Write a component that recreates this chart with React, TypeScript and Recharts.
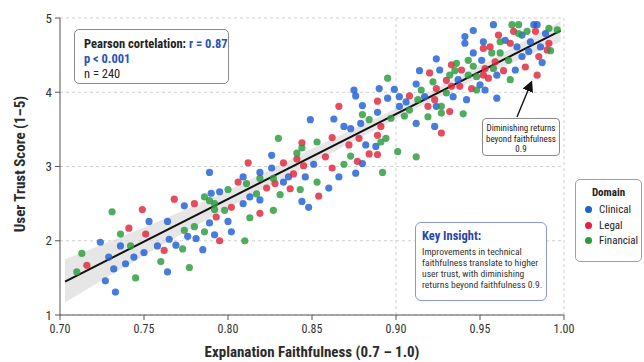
import { ComposedChart, Scatter, Line, Area, XAxis, YAxis, CartesianGrid, ReferenceLine } from 'recharts'

type Pt = [number, number]

// values (faithfulness, trust)
const clinical: Pt[] = [
  [0.724, 1.98], [0.729, 1.78], [0.727, 1.46], [0.733, 1.31], [0.732, 1.62], [0.736, 1.93], [0.739, 1.69],
  [0.744, 1.78], [0.753, 2.26], [0.750, 1.84], [0.758, 1.93], [0.764, 1.58], [0.764, 2.26], [0.765, 2.02],
  [0.769, 1.94], [0.774, 2.47], [0.776, 2.06], [0.781, 2.03], [0.785, 1.88], [0.789, 2.92], [0.789, 2.24],
  [0.790, 2.64], [0.792, 2.08], [0.795, 2.66], [0.800, 2.26], [0.802, 2.12], [0.809, 2.86], [0.809, 2.50],
  [0.813, 2.59], [0.819, 2.92], [0.819, 2.55], [0.826, 2.98], [0.826, 3.15], [0.833, 2.79], [0.836, 2.86],
  [0.844, 2.53], [0.846, 2.86], [0.848, 2.45], [0.851, 3.03], [0.849, 3.63], [0.863, 3.64], [0.869, 3.54],
  [0.873, 3.51], [0.875, 4.03], [0.876, 3.95], [0.879, 3.58], [0.880, 3.82], [0.882, 3.29], [0.890, 4.05],
  [0.889, 3.73], [0.888, 3.27], [0.895, 3.92], [0.860, 2.71], [0.866, 2.86], [0.880, 3.04], [0.876, 2.91],
  [0.899, 4.04], [0.902, 3.94], [0.902, 3.81], [0.906, 3.87], [0.912, 3.58], [0.914, 4.29], [0.912, 4.11],
  [0.917, 3.94], [0.924, 4.45], [0.924, 3.81], [0.923, 3.54], [0.926, 4.30], [0.934, 3.94], [0.937, 4.17],
  [0.942, 3.90], [0.941, 4.66], [0.941, 4.75], [0.946, 4.83], [0.946, 4.53], [0.950, 4.10], [0.951, 4.43],
  [0.952, 4.68], [0.953, 4.03], [0.958, 4.91], [0.960, 3.92], [0.960, 4.23], [0.965, 4.70], [0.971, 4.30],
  [0.972, 4.61], [0.975, 4.48], [0.979, 4.55], [0.982, 4.91], [0.986, 4.61], [0.987, 4.40], [0.989, 4.79],
  [0.984, 4.91], [0.980, 4.68], [0.975, 4.77],
]

const legal: Pt[] = [
  [0.716, 1.67], [0.741, 2.17], [0.749, 2.42], [0.751, 2.09], [0.762, 1.87], [0.768, 2.56], [0.780, 2.50],
  [0.793, 2.32], [0.795, 2.00], [0.802, 2.45], [0.806, 2.79], [0.812, 3.05], [0.819, 2.37], [0.823, 2.71],
  [0.828, 2.77], [0.833, 3.05], [0.837, 2.70], [0.839, 2.90], [0.841, 3.10], [0.844, 3.32], [0.845, 3.01],
  [0.854, 2.60], [0.862, 3.39], [0.866, 3.81], [0.872, 3.29], [0.878, 3.38], [0.889, 3.42], [0.889, 3.88],
  [0.891, 3.54], [0.862, 2.98], [0.858, 3.13], [0.877, 3.07], [0.884, 3.17], [0.889, 3.16], [0.908, 3.95],
  [0.919, 3.81], [0.920, 4.26], [0.923, 3.90], [0.924, 4.05], [0.927, 3.45], [0.930, 4.16], [0.933, 4.37],
  [0.933, 4.08], [0.932, 3.74], [0.938, 4.08], [0.939, 4.30], [0.945, 4.05], [0.952, 4.59], [0.952, 4.23],
  [0.953, 4.32], [0.955, 4.19], [0.956, 4.61], [0.959, 4.41], [0.961, 4.77], [0.964, 4.29], [0.968, 4.66],
  [0.970, 4.82], [0.977, 4.34], [0.983, 4.82], [0.984, 4.23], [0.985, 4.48], [0.990, 4.57], [0.991, 4.66],
]

const financial: Pt[] = [
  [0.710, 1.58], [0.713, 1.83], [0.731, 2.39], [0.736, 2.09], [0.742, 1.93], [0.745, 1.50], [0.760, 1.72],
  [0.773, 1.89], [0.774, 2.14], [0.777, 1.64], [0.780, 2.19], [0.786, 2.59], [0.786, 2.12], [0.789, 2.54],
  [0.792, 2.42], [0.792, 2.50], [0.798, 2.41], [0.800, 2.69], [0.810, 2.00], [0.811, 2.77], [0.813, 2.31],
  [0.817, 2.63], [0.819, 2.84], [0.827, 2.41], [0.827, 2.84], [0.831, 2.62], [0.841, 3.18], [0.843, 2.69],
  [0.844, 3.25], [0.853, 2.79], [0.853, 3.33], [0.830, 3.38], [0.880, 3.70], [0.884, 3.63], [0.891, 3.33],
  [0.894, 3.38], [0.895, 4.19], [0.869, 3.03], [0.873, 3.14], [0.892, 2.92], [0.901, 3.20], [0.912, 3.13],
  [0.897, 3.65], [0.905, 3.68], [0.908, 3.76], [0.913, 3.90], [0.915, 4.03], [0.919, 3.67], [0.922, 4.14],
  [0.927, 3.81], [0.927, 3.72], [0.932, 4.23], [0.930, 3.99], [0.935, 4.29], [0.936, 4.39], [0.940, 3.71],
  [0.943, 4.43], [0.943, 4.23], [0.946, 4.35], [0.948, 4.21], [0.948, 4.03], [0.957, 4.53], [0.958, 4.32],
  [0.962, 4.53], [0.962, 4.68], [0.968, 4.17], [0.967, 4.43], [0.969, 4.91], [0.973, 4.91], [0.973, 4.79],
  [0.978, 4.82], [0.991, 4.86], [0.992, 4.56], [0.996, 4.84],
]

const xTicks = [0.7, 0.75, 0.8, 0.85, 0.9, 0.95, 1.0]
const yTicks = [1, 2, 3, 4, 5]

// regression line and its confidence band
const fitX = [0.703, 0.998]
const fitY = [1.45, 4.83]
const bandX = [0.703, 0.75, 0.8, 0.85, 0.9, 0.95, 0.998]
const bandLow = [1.17, 1.8, 2.44, 3.04, 3.64, 4.2, 4.68]
const bandHigh = [1.75, 2.18, 2.68, 3.24, 3.78, 4.36, 4.96]

const BLUE = '#1f5fd4'
const RED = '#e0243c'
const GREEN = '#2a9a3c'

const domains = [
  { name: 'Clinical', color: BLUE, points: clinical },
  { name: 'Legal', color: RED, points: legal },
  { name: 'Financial', color: GREEN, points: financial },
]

const bandData = bandX.map((x, i) => ({ x, band: [bandLow[i], bandHigh[i]] }))
const fitData = fitX.map((x, i) => ({ x, fit: fitY[i] }))

const FONT = '"Liberation Sans Narrow", "Roboto Condensed", Roboto, Arial, sans-serif'

export default function App() {
  return (
    <div style={{ position: 'relative', width: 644, height: 362, overflow: 'hidden', background: '#fff', fontFamily: FONT }}>
      <style>{'body{margin:0}'}</style>
      <ComposedChart width={644} height={362} data={bandData} margin={{ top: 18, right: 80, bottom: 17, left: 0 }}>
        <CartesianGrid vertical={false} stroke="#cfcfcf" strokeDasharray="3 3" />
        <ReferenceLine x={0.9} stroke="#cfcfcf" strokeDasharray="3 3" />
        <ReferenceLine x={1.0} stroke="#cfcfcf" strokeDasharray="3 3" />
        <XAxis
          type="number"
          dataKey="x"
          domain={[0.7, 1.0]}
          ticks={xTicks}
          tickFormatter={(v: number) => v.toFixed(2)}
          height={30}
          stroke="#555"
          tickSize={5}
          tickMargin={4}
          tick={{ fontSize: 12, fill: '#333', fontFamily: FONT }}
          allowDataOverflow
        />
        <YAxis
          type="number"
          dataKey="y"
          domain={[1, 5]}
          ticks={yTicks}
          width={60}
          stroke="#555"
          tickSize={5}
          tickMargin={3}
          tick={{ fontSize: 13, fill: '#333', fontFamily: FONT }}
          allowDataOverflow
        />
        <Area dataKey="band" type="monotone" stroke="none" fill="#d6d6d6" fillOpacity={0.6} isAnimationActive={false} />
        {domains.map((d) => (
          <Scatter
            key={d.name}
            name={d.name}
            data={d.points.map(([x, y]) => ({ x, y }))}
            isAnimationActive={false}
            shape={(p: any) => <circle cx={p.cx} cy={p.cy} r={3.6} fill={d.color} fillOpacity={0.82} />}
          />
        ))}
        <Line data={fitData} dataKey="fit" stroke="#111" strokeWidth={2} dot={false} isAnimationActive={false} />
      </ComposedChart>

      {/* axis titles */}
      <div
        style={{
          position: 'absolute', left: 20, top: 164, transform: 'translate(-50%, -50%) rotate(-90deg)',
          whiteSpace: 'nowrap', fontSize: 15, fontWeight: 700, color: '#2b2b2b',
        }}
      >
        User Trust Score (1–5)
      </div>
      <div
        style={{
          position: 'absolute', left: 312, top: 352, transform: 'translate(-50%, -50%)',
          whiteSpace: 'nowrap', fontSize: 15, fontWeight: 700, color: '#2b2b2b',
        }}
      >
        Explanation Faithfulness (0.7 – 1.0)
      </div>

      {/* correlation box */}
      <div
        style={{
          position: 'absolute', left: 74, top: 29, width: 155, height: 55, boxSizing: 'border-box',
          border: '1px solid #8a8a8a', borderRadius: 5, background: '#fff', padding: '6px 0 0 9px',
          fontSize: 12.5, lineHeight: '15px', color: '#222',
        }}
      >
        <div style={{ fontWeight: 700 }}>
          Pearson cortelation: <span style={{ color: '#2c52b8' }}>r = 0.87</span>
        </div>
        <div style={{ fontWeight: 700, color: '#2c52b8' }}>p &lt; 0.001</div>
        <div>n = 240</div>
      </div>

      {/* diminishing returns callout */}
      <svg width={644} height={362} style={{ position: 'absolute', left: 0, top: 0, pointerEvents: 'none' }}>
        <defs>
          <marker id="head" markerWidth="8" markerHeight="8" refX="6" refY="4" orient="auto">
            <path d="M0,0 L8,4 L0,8 z" fill="#111" />
          </marker>
        </defs>
        <line x1={517} y1={117} x2={531} y2={83} stroke="#111" strokeWidth={1.4} markerEnd="url(#head)" />
      </svg>
      <div
        style={{
          position: 'absolute', left: 482, top: 118, width: 78, height: 38, boxSizing: 'border-box',
          border: '1px solid #8a8a8a', borderRadius: 4, background: '#fff', textAlign: 'center',
          fontSize: 9, lineHeight: '10.5px', color: '#222', paddingTop: 4,
        }}
      >
        Diminishing returns
        <br />
        beyond faithfulness
        <br />
        0.9
      </div>

      {/* key insight box */}
      <div
        style={{
          position: 'absolute', left: 415, top: 222, width: 132, height: 79, boxSizing: 'border-box',
          border: '1.3px solid #8797d8', borderRadius: 6, background: '#fff', padding: '5px 0 0 6px',
          fontSize: 9.6, lineHeight: '11px', color: '#333',
        }}
      >
        <div style={{ fontWeight: 700, color: '#2947a8', fontSize: 12.5, lineHeight: '15px', marginBottom: 3 }}>Key Insight:</div>
        <div>Improvements in technical</div>
        <div>faithfulness translate to higher</div>
        <div>user trust, with diminishing</div>
        <div>returns beyond faithfulness 0.9.</div>
      </div>

      {/* legend */}
      <div
        style={{
          position: 'absolute', left: 575, top: 179, width: 67, height: 83, boxSizing: 'border-box',
          border: '1px solid #a0a0a0', borderRadius: 5, background: '#fff', padding: '6px 0 0 9px',
          fontSize: 11, color: '#222',
        }}
      >
        <div style={{ fontWeight: 700, textAlign: 'center', marginLeft: -9, lineHeight: '14px', marginBottom: 2 }}>Domain</div>
        {domains.map((d) => (
          <div key={d.name} style={{ display: 'flex', alignItems: 'center', height: 15.5 }}>
            <span style={{ width: 7, height: 7, borderRadius: '50%', background: d.color, marginRight: 7 }} />
            {d.name}
          </div>
        ))}
      </div>
    </div>
  )
}
